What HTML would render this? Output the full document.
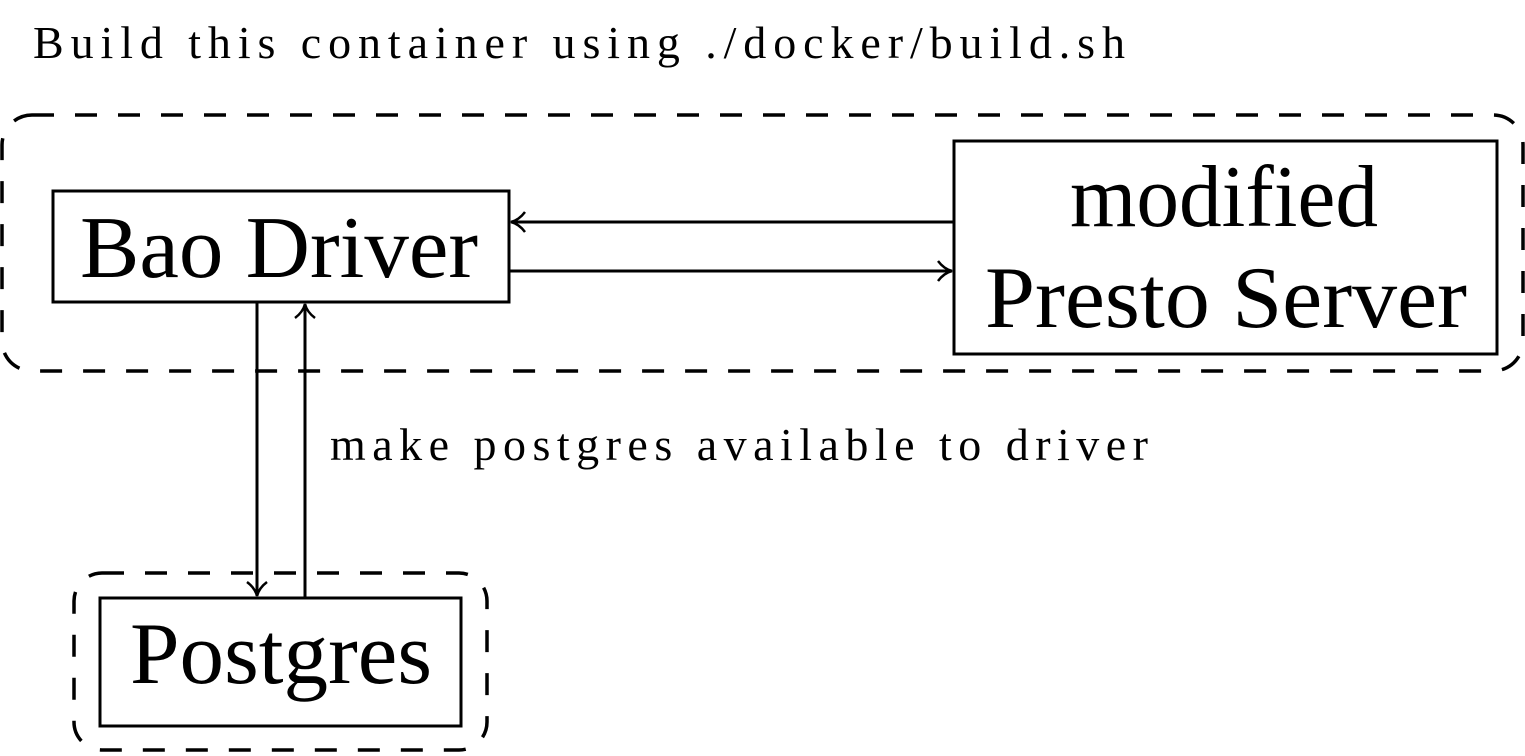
<!DOCTYPE html>
<html><head><meta charset="utf-8"><style>
html,body{margin:0;padding:0;background:#fff;}
svg{display:block;}
text{font-family:"Liberation Serif",serif;fill:#000;}
</style></head><body>
<svg width="1525" height="756" viewBox="0 0 1525 756" xmlns="http://www.w3.org/2000/svg">
<defs>
<marker id="a" markerWidth="20" markerHeight="24" refX="17" refY="12" orient="auto" markerUnits="userSpaceOnUse">
<path d="M3,2 Q9,10 17,12 Q9,14 3,22" fill="none" stroke="#000" stroke-width="2.5"/>
</marker>
</defs>
<text x="33" y="58" font-size="46" textLength="1092" lengthAdjust="spacing">Build this container using ./docker/build.sh</text>
<rect x="2" y="115" width="1521" height="256" rx="30" fill="none" stroke="#000" stroke-width="3.5" stroke-dasharray="22 21"/>
<rect x="53" y="191" width="456" height="111" fill="none" stroke="#000" stroke-width="3"/>
<text x="80" y="277" font-size="88" textLength="398" lengthAdjust="spacingAndGlyphs">Bao Driver</text>
<rect x="954" y="141" width="543" height="213" fill="none" stroke="#000" stroke-width="3"/>
<text x="1070" y="226" font-size="88" textLength="308" lengthAdjust="spacingAndGlyphs">modified</text>
<text x="985" y="327" font-size="88" textLength="482" lengthAdjust="spacingAndGlyphs">Presto Server</text>
<line x1="954" y1="222" x2="511" y2="222" stroke="#000" stroke-width="3" marker-end="url(#a)"/>
<line x1="509" y1="271" x2="952" y2="271" stroke="#000" stroke-width="3" marker-end="url(#a)"/>
<line x1="257" y1="302" x2="257" y2="596" stroke="#000" stroke-width="3" marker-end="url(#a)"/>
<line x1="305" y1="598" x2="305" y2="304" stroke="#000" stroke-width="3" marker-end="url(#a)"/>
<text x="330" y="460" font-size="46" textLength="818" lengthAdjust="spacing">make postgres available to driver</text>
<rect x="74" y="573" width="413" height="177" rx="28" fill="none" stroke="#000" stroke-width="3.5" stroke-dasharray="22 21"/>
<rect x="100" y="598" width="361" height="128" fill="none" stroke="#000" stroke-width="3"/>
<text x="130" y="683" font-size="88" textLength="302" lengthAdjust="spacingAndGlyphs">Postgres</text>
</svg>
</body></html>
